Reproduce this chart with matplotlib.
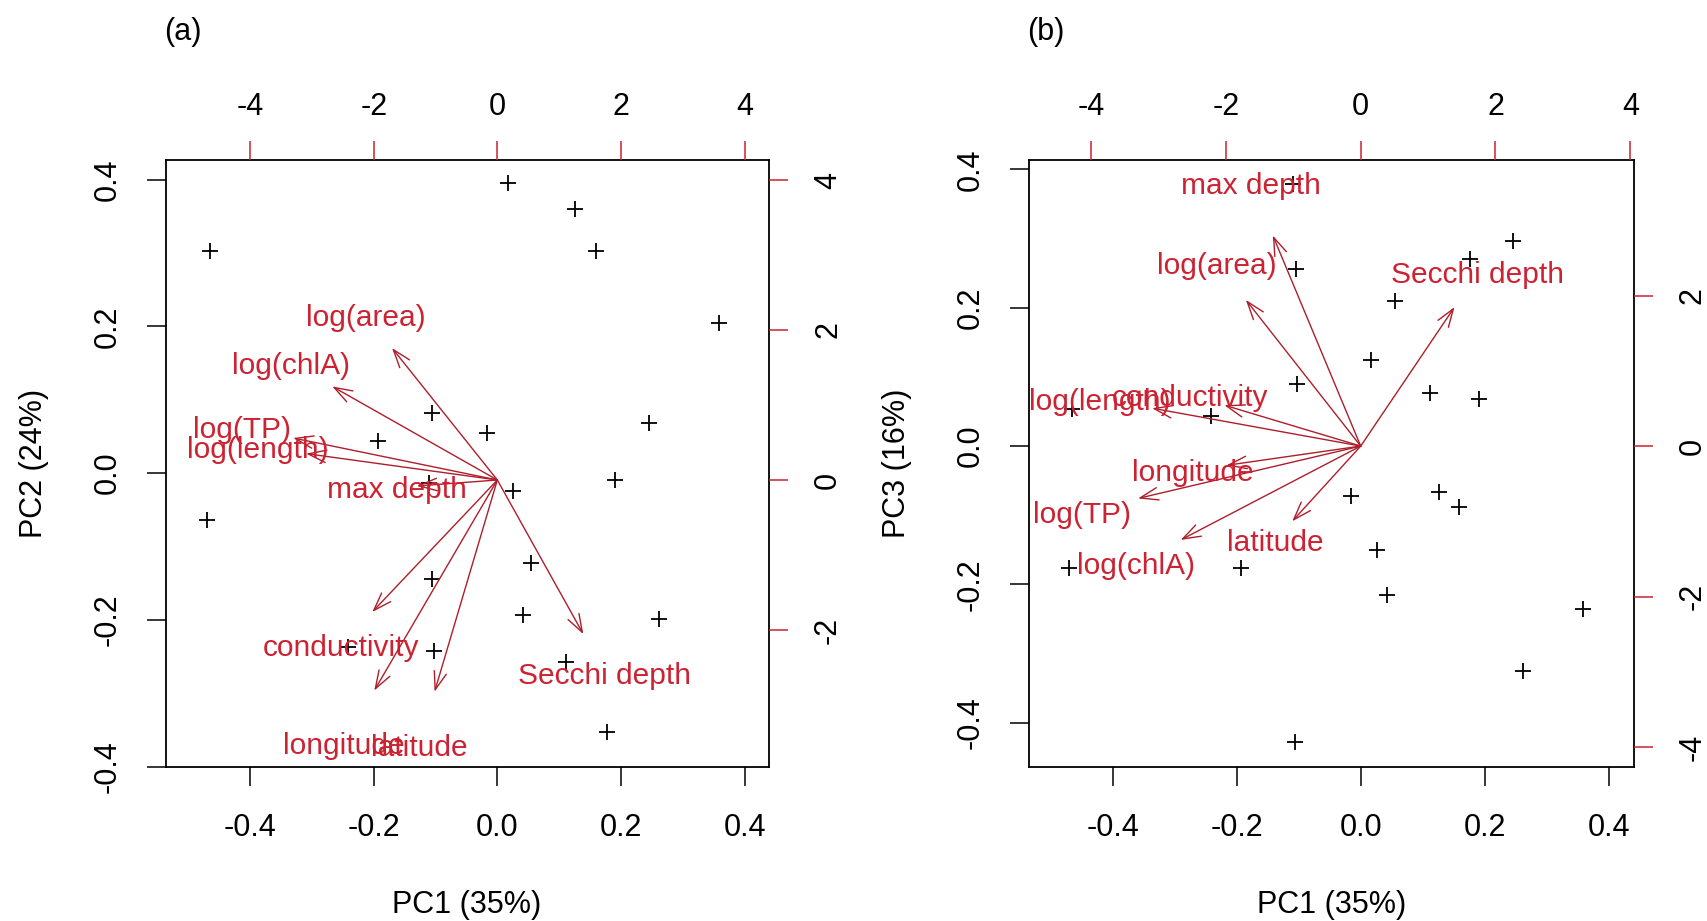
import numpy as np
import matplotlib.pyplot as plt

plt.rcParams['font.family'] = ['Liberation Sans', 'DejaVu Sans']
plt.rcParams['axes.unicode_minus'] = False

# site scores on the first three principal components (21 lakes)
pc1 = [-0.470, -0.465, -0.241, -0.193, -0.110, -0.106, -0.105, -0.102, -0.016, 0.017, 0.026,
       0.042, 0.055, 0.111, 0.126, 0.159, 0.177, 0.191, 0.246, 0.261, 0.358]
pc2 = [-0.064, 0.303, -0.237, 0.044, -0.013, 0.082, -0.144, -0.242, 0.055, 0.395, -0.025,
       -0.193, -0.122, -0.258, 0.360, 0.303, -0.353, -0.009, 0.069, -0.199, 0.205]
pc3 = [-0.176, 0.053, 0.043, -0.176, 0.378, -0.428, 0.256, 0.090, -0.072, 0.124, -0.150,
       -0.215, 0.209, 0.077, -0.066, -0.088, 0.270, 0.068, 0.296, -0.325, -0.236]

# variable loadings (scaled as in biplot)
variables = ['log(area)', 'log(chlA)', 'log(TP)', 'log(length)', 'max depth',
             'conductivity', 'longitude', 'latitude', 'Secchi depth']
load1 = [-2.13, -3.34, -4.13, -3.87, -1.63, -2.53, -2.49, -1.27, 1.74]
load2 = [2.20, 1.56, 0.70, 0.44, -0.10, -2.20, -3.51, -3.53, -2.57]
load3 = [2.43, -1.56, -0.87, 0.63, 3.50, 0.68, -0.32, -1.25, 2.31]

RED = '#CC2232'
ARROW = '#AE1E2A'
FS = 22

fig = plt.figure(figsize=(17.07, 9.21), dpi=100)


def biplot(rect, ys, loads, xlim, ylim, ratio, ylab, tag):
    ax = fig.add_axes(rect)
    ax.plot(pc1, ys, '+', color='black', ms=11.5, mew=1.3, ls='none')
    ax.set_xlim(xlim)
    ax.set_ylim(ylim)
    ax.set_xticks([-0.4, -0.2, 0.0, 0.2, 0.4])
    ax.set_yticks([-0.4, -0.2, 0.0, 0.2, 0.4])
    ax.set_xticklabels(['-0.4', '-0.2', '0.0', '0.2', '0.4'])
    ax.set_yticklabels(['-0.4', '-0.2', '0.0', '0.2', '0.4'], rotation=90, va='center')
    ax.tick_params(length=14, width=1.1, labelsize=FS, direction='out')
    ax.tick_params(axis='x', pad=19)
    ax.tick_params(axis='y', pad=17)
    for s in ax.spines.values():
        s.set_linewidth(1.3)
    ax.set_xlabel('PC1 (35%)', fontsize=FS, va='center')
    ax.xaxis.set_label_coords(0.5, -0.228)
    ax.set_ylabel(ylab, fontsize=FS, va='center')
    ax.yaxis.set_label_coords(-0.218, 0.5)

    # loadings axes (top / right) sharing the same box
    ax2 = fig.add_axes(rect, frameon=False)
    ax2.set_xlim(xlim[0] * ratio, xlim[1] * ratio)
    ax2.set_ylim(ylim[0] * ratio, ylim[1] * ratio)
    ax2.xaxis.tick_top()
    ax2.yaxis.tick_right()
    ticks = [-4, -2, 0, 2, 4]
    yt = [t for t in ticks if ylim[0] * ratio <= t <= ylim[1] * ratio]
    ax2.set_xticks(ticks)
    ax2.set_xticklabels([str(t) for t in ticks])
    ax2.set_yticks(yt)
    ax2.set_yticklabels([str(t) for t in yt], rotation=90, va='center')
    ax2.tick_params(length=14, width=1.1, labelsize=FS, direction='out',
                    color=RED, labelcolor='black')
    ax2.tick_params(axis='x', pad=13.5)
    ax2.tick_params(axis='y', pad=18)

    for name, lx, ly in zip(variables, load1, loads):
        ax2.annotate('', xy=(0.8 * lx, 0.8 * ly), xytext=(0, 0),
                     arrowprops=dict(arrowstyle='->,head_length=1.3,head_width=0.45',
                                     color=ARROW, lw=1.0, shrinkA=0, shrinkB=0,
                                     mutation_scale=10))
        ax2.text(lx, ly, name, color=RED, fontsize=21.5, ha='center',
                 va='center_baseline', clip_on=True)

    fig.text(rect[0] + 0.01, 1 - 32 / 921, tag, fontsize=FS, ha='center', va='center')
    return ax


biplot([0.09696, 0.16754, 0.35331, 0.65874], pc2, load2,
       (-0.537, 0.439), (-0.3823, 0.4267), 10.0, 'PC2 (24%)', '(a)')
biplot([0.60270, 0.16754, 0.35425, 0.65874], pc3, load3,
       (-0.5353, 0.44), (-0.4633, 0.4134), 9.2, 'PC3 (16%)', '(b)')

fig.savefig('out.png', dpi=100, facecolor='white')
